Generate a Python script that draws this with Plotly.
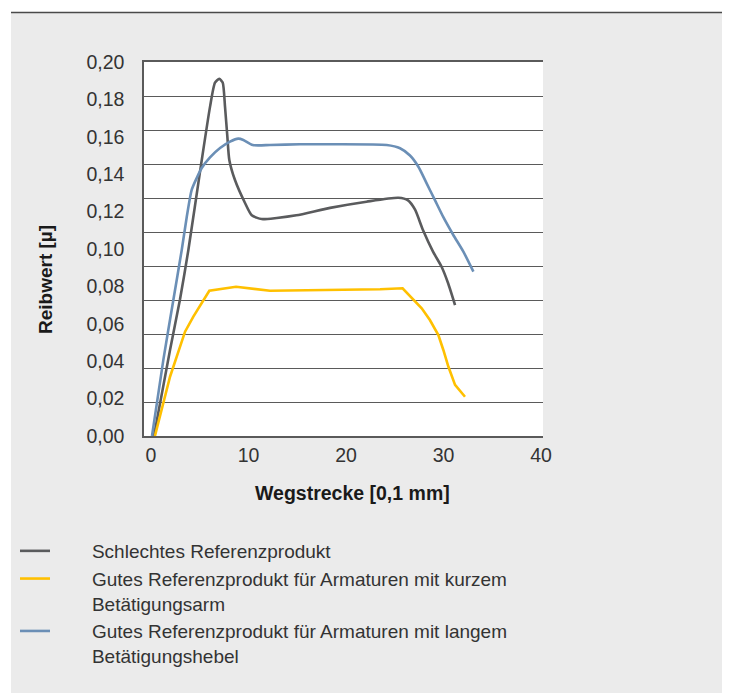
import plotly.graph_objects as go

# Data (x in 0,1 mm, y = Reibwert)
schlecht_x = [0.3, 1.95, 2.97, 3.83, 5.13, 6.05, 6.56, 7.0, 7.35, 7.59, 7.83, 8.03, 8.6, 9.64, 10.33, 11.35, 12.9, 14.9, 18.36, 22.1, 25.36, 26.36, 27.08, 27.9, 28.92, 29.8, 30.46, 31.18]
schlecht_y = [0.0, 0.046, 0.073, 0.0995, 0.145, 0.176, 0.189, 0.191, 0.189, 0.176, 0.160, 0.1476, 0.137, 0.1246, 0.118, 0.116, 0.1166, 0.118, 0.122, 0.1253, 0.1274, 0.126, 0.121, 0.110, 0.0986, 0.0905, 0.0818, 0.070]

kurz_x = [0.4, 1.95, 3.49, 4.34, 5.98, 8.72, 12.2, 18.36, 23.5, 25.8, 26.74, 27.76, 28.6, 29.47, 29.98, 30.5, 31.18, 32.2]
kurz_y = [0.0, 0.0317, 0.0558, 0.0638, 0.0777, 0.0798, 0.0777, 0.0781, 0.0785, 0.079, 0.0736, 0.0683, 0.062, 0.054, 0.046, 0.037, 0.0273, 0.021]

lang_x = [0.1, 1.26, 2.29, 3.15, 3.66, 4.17, 4.69, 5.2, 6.05, 7.08, 8.1, 8.95, 9.47, 10.43, 12.2, 15.28, 18.67, 24.17, 25.54, 26.56, 27.42, 28.28, 29.13, 29.98, 31.0, 32.03, 33.06]
lang_y = [0.0, 0.0406, 0.0727, 0.0995, 0.117, 0.1316, 0.138, 0.1433, 0.149, 0.154, 0.1574, 0.159, 0.1583, 0.1556, 0.1556, 0.156, 0.156, 0.1556, 0.1539, 0.150, 0.144, 0.135, 0.126, 0.117, 0.1075, 0.0986, 0.0879]

PADTXT = "\u00a0" * 7
names = [
    PADTXT + "Schlechtes Referenzprodukt",
    PADTXT + "Gutes Referenzprodukt für Armaturen mit kurzem<br>" + PADTXT + "Betätigungsarm",
    PADTXT + "Gutes Referenzprodukt für Armaturen mit langem<br>" + PADTXT + "Betätigungshebel",
]
colors = ["#5a5b5d", "#ffc000", "#6b8fb6"]

y_ticks = [0.00, 0.02, 0.04, 0.06, 0.08, 0.10, 0.12, 0.14, 0.16, 0.18, 0.20]
x_ticks = [0, 10, 20, 30, 40]

FONT = "Liberation Sans, Arial, sans-serif"
TXT = "#333333"
GRID = "#5a5a5a"

fig = go.Figure()
fig.add_trace(go.Scatter(x=schlecht_x, y=schlecht_y, mode="lines", name=names[0],
                         line=dict(color=colors[0], width=2.6, shape="spline", smoothing=0.6)))
fig.add_trace(go.Scatter(x=kurz_x, y=kurz_y, mode="lines", name=names[1],
                         line=dict(color=colors[1], width=2.6)))
fig.add_trace(go.Scatter(x=lang_x, y=lang_y, mode="lines", name=names[2],
                         line=dict(color=colors[2], width=2.6, shape="spline", smoothing=0.6)))
# invisible trace on overlay axis for gridlines
fig.add_trace(go.Scatter(x=[0], y=[0], yaxis="y2", mode="markers", marker=dict(opacity=0),
                         showlegend=False, hoverinfo="skip"))

W, H = 729, 693
L, R, T, B = 144, 543, 62, 436

def px(xp):  # page x -> paper
    return (xp - L) / (R - L)

def py(yp):  # page y -> paper
    return (B - yp) / (B - T)

fig.update_layout(
    width=W, height=H,
    margin=dict(l=L, r=W - R, t=T, b=H - B, pad=0),
    paper_bgcolor="#ebebeb",
    plot_bgcolor="#ffffff",
    separators=",.",
    font=dict(family=FONT, size=19, color=TXT),
    xaxis=dict(range=[-0.72, 40.2], tickvals=x_ticks, showgrid=False, zeroline=False,
               showline=True, linecolor=GRID, linewidth=1.5, mirror=True,
               ticks="outside", ticklen=1, tickcolor="rgba(0,0,0,0)",
               tickfont=dict(size=19.5, color=TXT)),
    yaxis=dict(range=[0, 0.20], tickvals=y_ticks, tickformat=".2f", showgrid=False,
               zeroline=False, showline=True, linecolor=GRID, linewidth=1.5,
               ticks="outside", ticklen=14, tickcolor="rgba(0,0,0,0)",
               tickfont=dict(size=19.5, color=TXT)),
    yaxis2=dict(range=[0, 11], dtick=1, overlaying="y", showgrid=True, gridcolor=GRID,
                gridwidth=1.3, showticklabels=False, zeroline=False, side="left"),
    showlegend=True,
    legend=dict(x=px(15), y=py(532), xanchor="left", yanchor="top", valign="top",
                bgcolor="rgba(0,0,0,0)", font=dict(size=19, color=TXT),
                itemwidth=30, tracegroupgap=0),
    shapes=[
        dict(type="rect", xref="paper", yref="paper", x0=px(-20), x1=px(750), y0=py(12), y1=py(-20),
             fillcolor="#ffffff", line=dict(width=0), layer="below"),
        dict(type="rect", xref="paper", yref="paper", x0=px(-20), x1=px(11), y0=py(-20), y1=py(720),
             fillcolor="#ffffff", line=dict(width=0), layer="below"),
        dict(type="rect", xref="paper", yref="paper", x0=px(722), x1=px(750), y0=py(-20), y1=py(720),
             fillcolor="#ffffff", line=dict(width=0), layer="below"),
        dict(type="line", xref="paper", yref="paper", x0=px(11), x1=px(722), y0=py(12.5), y1=py(12.5),
             line=dict(color="#4a4a4a", width=1.5)),
    ],
    annotations=[
        dict(text="<b>Wegstrecke [0,1 mm]</b>", xref="paper", yref="paper",
             x=px(352), y=py(493), showarrow=False, xanchor="center", yanchor="middle",
             font=dict(size=19.5, color="#1a1a1a")),
        dict(text="<b>Reibwert [µ]</b>", xref="paper", yref="paper", textangle=-90,
             x=px(45), y=py(280), showarrow=False, xanchor="center", yanchor="middle",
             font=dict(size=19, color="#1a1a1a")),
    ],
)

fig.write_html("out.html", config={"displayModeBar": False},
               post_script="document.body.style.margin='0';")
